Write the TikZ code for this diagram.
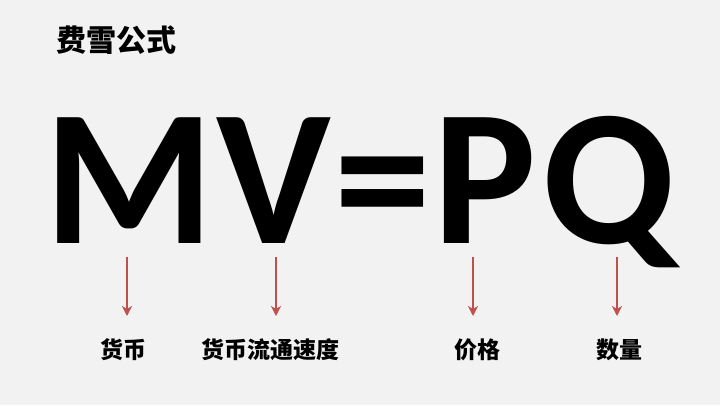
\documentclass[tikz,border=0pt]{standalone}
\usepackage{fontspec}
\setmainfont{Carlito}
\newfontfamily\cjk{Noto Sans CJK SC}
\usetikzlibrary{arrows.meta}
\definecolor{bg}{HTML}{F2F2F2}
\definecolor{arr}{HTML}{C0504D}
\tikzset{
  bigtxt/.style={inner sep=0pt, anchor=base, font=\fontsize{194}{194}\selectfont\bfseries, text=black},
  lbl/.style={inner sep=0pt, font=\cjk\bfseries\fontsize{23}{23}\selectfont, text=black},
  ttl/.style={inner sep=0pt, anchor=west, font=\cjk\bfseries\fontsize{30}{30}\selectfont, text=black},
  arrline/.style={draw=arr, line width=1.8pt, -{Stealth[length=10pt,width=10pt,inset=3pt]}},
}
\begin{document}
\begin{tikzpicture}[x=1pt,y=1pt]
\fill[bg] (0,0) rectangle (720,-405);
\useasboundingbox (0,0) rectangle (720,-405);
\node[ttl] (title) at (56,-40) {费雪公式};
\node[bigtxt] (M) at (129,-243) {M};
\node[bigtxt] (V) at (274,-243) {V};
\node[bigtxt] (eq) at (383,-243) {=};
\node[bigtxt] (P) at (485,-243) {P};
\node[bigtxt] (Q) at (609,-243) {Q};
\coordinate (aM) at (127,-257);
\coordinate (aV) at (276,-257);
\coordinate (aP) at (473,-257);
\coordinate (aQ) at (617,-257);
\node[lbl] (lM) at (123,-350) {货币};
\node[lbl] (lV) at (270,-350) {货币流通速度};
\node[lbl] (lP) at (477,-350) {价格};
\node[lbl] (lQ) at (619,-350) {数量};
\draw[arrline] (aM) -- (aM |- 0,-316);
\draw[arrline] (aV) -- (aV |- 0,-316);
\draw[arrline] (aP) -- (aP |- 0,-316);
\draw[arrline] (aQ) -- (aQ |- 0,-316);
\end{tikzpicture}
\end{document}
